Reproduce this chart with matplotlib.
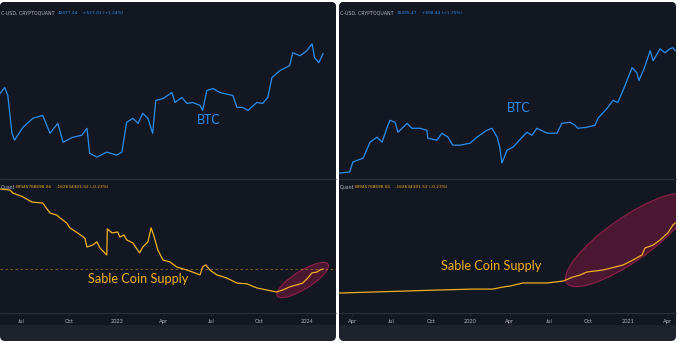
import pandas as pd
import matplotlib
matplotlib.use('Agg')
import matplotlib.pyplot as plt
import matplotlib.dates as mdates
from matplotlib.patches import FancyBboxPatch, Ellipse, Rectangle
from matplotlib.ticker import FuncFormatter
from matplotlib.transforms import ScaledTranslation

plt.rcParams['font.family'] = ['Lato', 'DejaVu Sans']

# ---- left chart: 2022-2024 ----
l_btc_dates = ['2022-05-22', '2022-05-31', '2022-06-06', '2022-06-14', '2022-06-19', '2022-07-05',
               '2022-07-24', '2022-08-12', '2022-08-26', '2022-09-10', '2022-09-20', '2022-10-09',
               '2022-10-26', '2022-11-05', '2022-11-10', '2022-11-24', '2022-12-13', '2023-01-01',
               '2023-01-11', '2023-01-20', '2023-02-01', '2023-02-11', '2023-02-20', '2023-03-02',
               '2023-03-11', '2023-03-17', '2023-03-31', '2023-04-17', '2023-04-23', '2023-05-06',
               '2023-05-16', '2023-05-27', '2023-06-10', '2023-06-15', '2023-06-23', '2023-07-05',
               '2023-07-18', '2023-08-12', '2023-08-20', '2023-08-31', '2023-09-10', '2023-09-27',
               '2023-10-08', '2023-10-18', '2023-10-26', '2023-11-10', '2023-11-29', '2023-12-05',
               '2023-12-19', '2024-01-01', '2024-01-11', '2024-01-16', '2024-01-24', '2024-02-01']
l_btc_price = [28.43, 30.16, 27.88, 19.21, 17.94, 20.37,
               22.25, 22.92, 19.21, 21.19, 17.59, 18.47,
               18.84, 20.17, 15.79, 15.18, 15.95, 15.49,
               15.95, 21.40, 22.25, 21.19, 23.37, 22.25,
               19.21, 26.55, 27.07, 28.71, 26.03, 27.34,
               25.78, 26.03, 25.28, 24.07, 29.28, 29.86,
               28.71, 27.88, 24.79, 24.79, 24.07, 26.03,
               25.78, 27.34, 33.26, 35.62, 37.41, 42.49,
               41.26, 43.33, 46.41, 40.46, 38.52, 42.08]

l_sup_dates = ['2022-05-22', '2022-06-10', '2022-06-16', '2022-07-05', '2022-07-22', '2022-08-12',
               '2022-08-26', '2022-09-08', '2022-09-14', '2022-09-27', '2022-10-03', '2022-10-18',
               '2022-11-01', '2022-11-05', '2022-11-16', '2022-11-24', '2022-11-30', '2022-12-13',
               '2022-12-14', '2022-12-23', '2023-01-03', '2023-01-07', '2023-01-15', '2023-01-20',
               '2023-02-01', '2023-02-14', '2023-02-20', '2023-03-02', '2023-03-08', '2023-03-13',
               '2023-03-21', '2023-03-31', '2023-04-13', '2023-04-26', '2023-05-16', '2023-05-27',
               '2023-06-10', '2023-06-15', '2023-06-21', '2023-06-29', '2023-07-12', '2023-07-31',
               '2023-08-20', '2023-09-08', '2023-09-27', '2023-10-16', '2023-11-04', '2023-11-16',
               '2023-11-29', '2023-12-13', '2023-12-24', '2024-01-03', '2024-01-11', '2024-01-20',
               '2024-01-26', '2024-02-01']
l_sup_value = [150.0, 149.7, 148.8, 147.7, 146.2, 145.9,
               143.0, 142.4, 141.6, 140.1, 138.7, 137.2,
               135.7, 133.1, 133.7, 134.6, 132.8, 130.8,
               138.4, 137.2, 137.5, 136.0, 136.6, 135.2,
               134.3, 131.4, 133.1, 134.6, 138.7, 136.6,
               132.2, 129.3, 128.8, 127.3, 126.4, 125.8,
               125.0, 127.3, 127.9, 126.4, 125.0, 124.1,
               122.6, 122.4, 121.2, 120.6, 120.0, 120.6,
               121.5, 122.1, 122.6, 124.1, 125.6, 125.8,
               126.4, 126.7]

# ---- right chart: 2019-2021 ----
r_btc_dates = ['2019-03-04', '2019-03-27', '2019-04-03', '2019-04-27', '2019-05-13', '2019-05-29',
               '2019-06-10', '2019-06-21', '2019-06-28', '2019-07-10', '2019-07-17', '2019-08-07',
               '2019-08-18', '2019-09-06', '2019-09-22', '2019-09-24', '2019-10-15', '2019-10-27',
               '2019-11-10', '2019-11-21', '2019-12-08', '2019-12-31', '2020-01-16', '2020-02-08',
               '2020-02-20', '2020-03-03', '2020-03-09', '2020-03-14', '2020-03-26', '2020-04-09',
               '2020-04-30', '2020-05-11', '2020-05-23', '2020-06-03', '2020-06-27', '2020-07-20',
               '2020-07-31', '2020-08-19', '2020-08-31', '2020-09-06', '2020-09-27', '2020-10-16',
               '2020-10-23', '2020-11-13', '2020-11-27', '2020-12-08', '2020-12-20', '2021-01-01',
               '2021-01-10', '2021-01-21', '2021-01-26', '2021-02-07', '2021-02-21', '2021-02-28',
               '2021-03-16', '2021-03-27', '2021-04-08', '2021-04-15', '2021-04-20']
r_btc_price = [4.00, 4.09, 5.10, 5.57, 7.93, 8.85,
               7.93, 10.79, 12.88, 12.32, 9.88, 12.05,
               10.79, 10.79, 10.33, 8.66, 8.28, 9.67,
               8.85, 7.42, 7.42, 7.75, 8.85, 10.33,
               10.79, 8.85, 7.10, 4.99, 6.64, 7.10,
               8.85, 9.88, 9.25, 10.79, 9.67, 9.67,
               12.05, 12.32, 11.53, 10.79, 11.03, 11.53,
               13.46, 16.78, 20.02, 19.16, 24.96, 33.25,
               41.46, 37.13, 31.12, 40.55, 60.32, 48.38,
               63.04, 57.72, 63.04, 64.45, 60.32]

r_sup_dates = ['2019-03-04', '2019-05-20', '2019-08-07', '2019-10-22', '2020-01-07', '2020-02-22',
               '2020-03-16', '2020-04-02', '2020-05-02', '2020-06-27', '2020-08-03', '2020-08-26',
               '2020-09-11', '2020-09-27', '2020-11-04', '2020-12-20', '2021-01-12', '2021-02-02',
               '2021-02-09', '2021-02-28', '2021-03-16', '2021-04-03', '2021-04-15', '2021-04-20']
r_sup_value = [5.0, 5.8, 6.6, 7.4, 8.1, 8.1,
               9.7, 10.5, 12.9, 12.9, 14.4, 17.6,
               19.1, 21.5, 23.1, 27.0, 30.9, 34.9,
               40.4, 42.7, 46.7, 52.2, 58.4, 60.0]

W, H = 679, 343
BG = '#131722'
STRIP = '#1e222d'
LINE = '#2a2e39'
TXT = '#b2b5be'
BLUE = '#2a8ff0'
GOLD = '#f2b01e'
ELL_FACE = '#5a1836'
ELL_EDGE = '#a8224f'

fig = plt.figure(figsize=(W / 100, H / 100), dpi=100)
fig.patch.set_facecolor('white')

# pixel-space background axes
bg = fig.add_axes([0, 0, 1, 1])
bg.set_xlim(0, W)
bg.set_ylim(H, 0)
bg.axis('off')


def box(x0, x1, y0, y1):
    return [x0 / W, 1 - y1 / H, (x1 - x0) / W, (y1 - y0) / H]


def fmt_date(x, pos):
    d = mdates.num2date(x)
    return str(d.year) if d.month == 1 else d.strftime('%b')


panels = [
    dict(x0=0, x1=336, xlim=('2022-05-22', '2024-02-26'),
         btc=(l_btc_dates, l_btc_price), btc_ylim=(12.36, 69.4),
         sup=(l_sup_dates, l_sup_value), sup_ylim=(113.9, 153.2),
         price='42077.44', chg='+527.01 (+1.24%)',
         btc_xy=(209, 120), sup_xy=(138, 279),
         ell=('2023-12-24', 123.5, 0.60, 0.18, 32), dash=126.7),
    dict(x0=339, x1=676, xlim=('2019-03-02', '2021-04-22'),
         btc=(r_btc_dates, r_btc_price), btc_ylim=(3.58, 174.0),
         sup=(r_sup_dates, r_sup_value), sup_ylim=(-10.7, 95.4),
         price='35285.47', chg='+608.44 (+1.75%)',
         btc_xy=(519, 108), sup_xy=(491, 266),
         ell=('2021-01-01', 46.7, 1.50, 0.44, 35), dash=None),
]

for p in panels:
    x0, x1 = p['x0'], p['x1']
    # panel shapes
    bg.add_patch(FancyBboxPatch((x0, 2), x1 - x0, 339, boxstyle='round,pad=0,rounding_size=5',
                                fc=STRIP, ec='none'))
    bg.add_patch(FancyBboxPatch((x0, 2), x1 - x0, 323, boxstyle='round,pad=0,rounding_size=5',
                                fc=BG, ec='none'))
    bg.add_patch(Rectangle((x0, 312), x1 - x0, 13, fc=BG, ec='none'))
    bg.plot([x0, x1], [178.5, 178.5], color=LINE, lw=0.9, solid_capstyle='butt')
    bg.plot([x0, x1], [313, 313], color=LINE, lw=0.9, solid_capstyle='butt')

    ax_t = fig.add_axes(box(x0, x1, 3, 178))
    ax_b = fig.add_axes(box(x0, x1, 178, 313), sharex=ax_t)

    d, v = p['btc']
    ax_t.plot(pd.to_datetime(d), v, color=BLUE, lw=0.9)
    ax_t.set_yscale('log')
    ax_t.set_ylim(*p['btc_ylim'])
    ax_t.tick_params(axis='x', which='both', bottom=False, labelbottom=False)

    d, v = p['sup']
    ax_b.plot(pd.to_datetime(d), v, color=GOLD, lw=0.9, zorder=3)
    ax_b.set_ylim(*p['sup_ylim'])
    if p['dash'] is not None:
        ax_b.axhline(p['dash'], color=GOLD, lw=0.6, ls=(0, (3, 3)), alpha=0.55, zorder=2)

    for ax in (ax_t, ax_b):
        ax.set_facecolor('none')
        for s in ax.spines.values():
            s.set_visible(False)
        ax.tick_params(axis='y', which='both', left=False, right=False,
                       labelleft=False, labelright=False)

    ax_b.set_xlim(pd.Timestamp(p['xlim'][0]), pd.Timestamp(p['xlim'][1]))
    ax_b.xaxis.set_major_locator(mdates.MonthLocator(bymonth=[1, 4, 7, 10]))
    ax_b.xaxis.set_major_formatter(FuncFormatter(fmt_date))
    ax_b.tick_params(axis='x', length=2, width=0.5, color=LINE, pad=2.5,
                     labelsize=4, labelcolor=TXT)

    # highlight ellipse
    ed, ev, ew, eh, ea = p['ell']
    tr = fig.dpi_scale_trans + ScaledTranslation(mdates.date2num(pd.Timestamp(ed)), ev, ax_b.transData)
    ax_b.add_patch(Ellipse((0, 0), ew, eh, angle=ea, transform=tr, fc=ELL_FACE, ec=ELL_EDGE,
                           lw=0.8, alpha=0.8, zorder=1))

    # header texts
    lab = dict(fontsize=3.4, va='center', ha='left', family='DejaVu Sans')
    num = dict(fontsize=3.1, va='center', ha='left', family='DejaVu Sans')
    bg.text(x0 + 1, 13, 'C-USD, CRYPTOQUANT', color=TXT, **lab)
    bg.text(x0 + 58, 13, p['price'], color=BLUE, **num)
    bg.text(x0 + 83, 13, p['chg'], color=BLUE, **num)
    bg.text(x0 + 1, 187, 'Quant', color=TXT, **lab)
    bg.text(x0 + 16, 187, '69945768698.04', color=GOLD, **num)
    bg.text(x0 + 56, 187, '-162634301.52 (-0.23%)', color=GOLD, **num)

    bg.text(*p['btc_xy'], 'BTC', color=BLUE, fontsize=9, ha='center', va='center')
    bg.text(*p['sup_xy'], 'Sable Coin Supply', color=GOLD, fontsize=9.2, ha='center', va='center')

fig.savefig('out.png', dpi=100, facecolor='white')
